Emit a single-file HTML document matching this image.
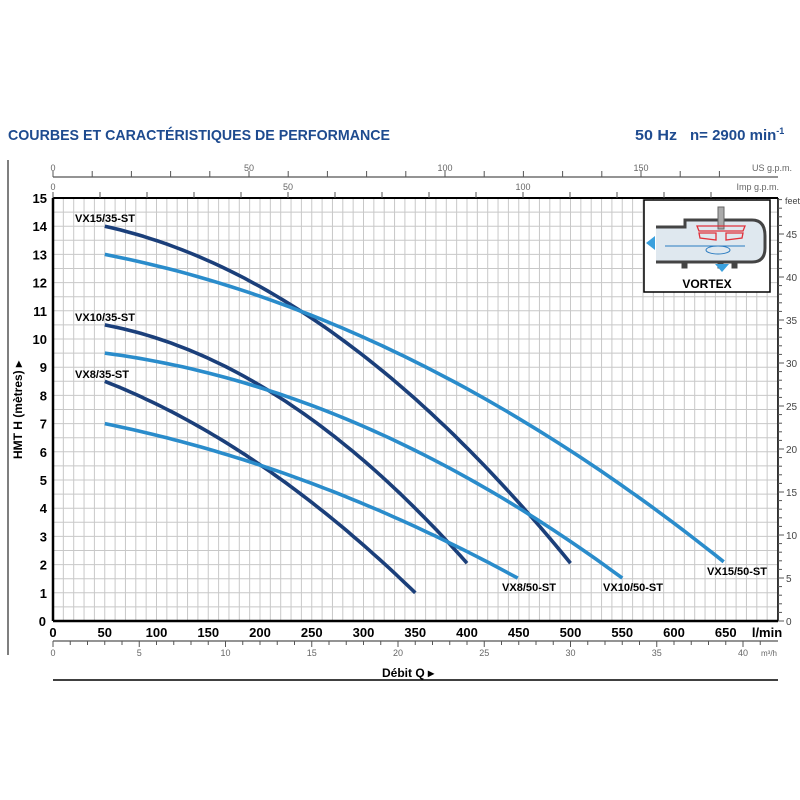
<!DOCTYPE html>
<html><head><meta charset="utf-8"><style>
html,body{margin:0;padding:0;background:#fff;width:800px;height:800px;overflow:hidden}
svg{display:block;font-family:"Liberation Sans",Arial,sans-serif}
</style></head><body>
<svg id="s" width="800" height="800" xmlns="http://www.w3.org/2000/svg"></svg>
<script>
const s=document.getElementById('s');let h='';
const X0=53,PX=1.035,Y0=621,PY=28.2;
const X=q=>X0+q*PX, Y=m=>Y0-m*PY;
h+='<text x="8" y="140" font-size="15" font-weight="bold" fill="#1e4b8f" textLength="382" lengthAdjust="spacingAndGlyphs">COURBES ET CARACTÉRISTIQUES DE PERFORMANCE</text>';
h+='<text x="635" y="140" font-size="15" font-weight="bold" fill="#1e4b8f" textLength="42" lengthAdjust="spacingAndGlyphs">50 Hz</text>';
h+='<text x="690" y="140" font-size="15" font-weight="bold" fill="#1e4b8f">n= 2900 min<tspan font-size="9" dy="-6">-1</tspan></text>';
h+='<line x1="8" y1="160" x2="8" y2="655" stroke="#555" stroke-width="1.5"/>';
for(let q=0;q<=700;q+=10){h+=`<line x1="${X(q)}" y1="${Y(15)}" x2="${X(q)}" y2="${Y0}" stroke="#c8c8c8" stroke-width="1"/>`;}
for(let m=0;m<=15;m+=0.5){h+=`<line x1="${X0}" y1="${Y(m)}" x2="778" y2="${Y(m)}" stroke="#c8c8c8" stroke-width="1"/>`;}
h+=`<line x1="${X0}" y1="${Y(15)}" x2="778" y2="${Y(15)}" stroke="#000" stroke-width="2"/>`;
h+=`<line x1="${X0}" y1="${Y(15)}" x2="${X0}" y2="${Y0}" stroke="#000" stroke-width="2.5"/>`;
h+=`<line x1="${X0}" y1="${Y0}" x2="778" y2="${Y0}" stroke="#000" stroke-width="2.5"/>`;
h+=`<line x1="778" y1="${Y(15)}" x2="778" y2="${Y0}" stroke="#000" stroke-width="1.5"/>`;
for(let m=0;m<=15;m++){h+=`<text x="${m==0?46:47}" y="${Y(m)+5}" font-size="13" font-weight="bold" text-anchor="end">${m}</text>`;}
for(let q=0;q<=650;q+=50){h+=`<text x="${X(q)}" y="637" font-size="13" font-weight="bold" text-anchor="middle">${q}</text>`;}
h+='<text x="767" y="637" font-size="13" font-weight="bold" text-anchor="middle">l/min</text>';
h+='<line x1="53" y1="641" x2="778" y2="641" stroke="#555" stroke-width="1.2"/>';
for(let v=0;v<=41;v++){const x=X(v*1000/60);h+=`<line x1="${x}" y1="641" x2="${x}" y2="${v%5?645:647}" stroke="#555"/>`;if(v%5==0)h+=`<text x="${x}" y="656" font-size="9" fill="#666" text-anchor="middle">${v}</text>`;}
h+='<text x="769" y="656" font-size="8" fill="#666" text-anchor="middle">m³/h</text>';
h+='<line x1="53" y1="177" x2="778" y2="177" stroke="#555" stroke-width="1.2"/>';
for(let g=0;g<=170;g+=10){const x=53+g*3.92;h+=`<line x1="${x}" y1="171" x2="${x}" y2="177" stroke="#555"/>`;if(g%50==0)h+=`<text x="${x}" y="171" font-size="9" fill="#666" text-anchor="middle">${g}</text>`;}
h+='<text x="792" y="171" font-size="9" fill="#666" text-anchor="end">US g.p.m.</text>';
for(let g=0;g<=140;g+=10){const x=53+g*4.7;h+=`<line x1="${x}" y1="192" x2="${x}" y2="198" stroke="#555"/>`;if(g%50==0)h+=`<text x="${x}" y="190" font-size="9" fill="#666" text-anchor="middle">${g}</text>`;}
h+='<text x="779" y="190" font-size="9" fill="#666" text-anchor="end">Imp g.p.m.</text>';
for(let f=0;f<=49;f++){const y=Y0-f*8.6;h+=`<line x1="778" y1="${y}" x2="${f%5?782:784}" y2="${y}" stroke="#555"/>`;if(f%5==0)h+=`<text x="786" y="${y+4}" font-size="10" fill="#444">${f}</text>`;}
h+='<text x="785" y="204" font-size="9" fill="#444">feet</text>';
h+='<text transform="translate(22,410) rotate(-90)" font-size="12" font-weight="bold" text-anchor="middle">HMT H (mètres) ▸</text>';
h+='<text x="382" y="677" font-size="12" font-weight="bold">Débit Q ▸</text>';
h+='<line x1="53" y1="680" x2="778" y2="680" stroke="#000" stroke-width="1.5"/>';
function fit(pts){
  let S=[[0,0,0],[0,0,0],[0,0,0]],b=[0,0,0];
  pts.forEach(([q,m])=>{const v=[1,q/100,(q/100)**2];for(let i=0;i<3;i++){b[i]+=v[i]*m;for(let j=0;j<3;j++)S[i][j]+=v[i]*v[j];}});
  for(let i=0;i<3;i++){for(let k=i+1;k<3;k++){const f=S[k][i]/S[i][i];for(let j=i;j<3;j++)S[k][j]-=f*S[i][j];b[k]-=f*b[i];}}
  const c=[0,0,0];for(let i=2;i>=0;i--){let t=b[i];for(let j=i+1;j<3;j++)t-=S[i][j]*c[j];c[i]=t/S[i][i];}
  const F=q=>{const u=q/100;return c[0]+c[1]*u+c[2]*u*u;};
  const q0=pts[0][0],q1=pts[pts.length-1][0];
  const e0=pts[0][1]-F(q0),e1=pts[pts.length-1][1]-F(q1);let d='';
  for(let k=0;k<=60;k++){const t=k/60,q=q0+(q1-q0)*t;const m=F(q)+e0*(1-t)+e1*t;d+=(k?'L':'M')+X(q).toFixed(1)+','+Y(m).toFixed(1);}
  return d;}
const D='#1b3f7a',L='#2a8ccb';
const C=[
[D,[[50,14],[142,12.8],[245,10.85],[335,8.4],[364,7.4],[454,4.04],[500,2.05]]],
[L,[[50,13],[103,12.5],[245,10.85],[335,9.43],[400,8.3],[516,5.6],[648,2.1]]],
[D,[[50,10.5],[103,10.03],[142,9.36],[222,7.9],[364,3.58],[400,2.05]]],
[L,[[50,9.5],[103,8.97],[222,7.9],[335,6.35],[454,4.04],[550,1.52]]],
[D,[[50,8.5],[103,7.48],[190,5.64],[287,3.58],[350,1.0]]],
[L,[[50,7],[190,5.64],[364,3.12],[449,1.52]]]];
C.forEach(c=>h+=`<path d="${fit(c[1])}" fill="none" stroke="${c[0]}" stroke-width="3.6" stroke-linejoin="round"/>`);
const lab=(x,y,t)=>h+=`<text x="${x}" y="${y}" font-size="11" font-weight="bold" textLength="${t.length*6}" lengthAdjust="spacingAndGlyphs">${t}</text>`;
lab(75,222,'VX15/35-ST');lab(75,321,'VX10/35-ST');lab(75,378,'VX8/35-ST');
lab(502,591,'VX8/50-ST');lab(603,591,'VX10/50-ST');lab(707,575,'VX15/50-ST');
h+='<rect x="644" y="200" width="126" height="92" fill="#fff" stroke="#000" stroke-width="1.5"/>';
h+='<path d="M656,227 H685 V220 H752 Q765,220 765,236 V248 Q765,262 752,262 H736 V267 H733 V262 H722 V267 H719 V262 H686 V267 H683 V262 H656" fill="#dfe8ef" stroke="#444" stroke-width="3"/>';
h+='<rect x="718" y="207" width="6" height="22" fill="#aaa" stroke="#666"/>';
h+='<path d="M697,226 H745 L743,231 H699 Z M699,233 H716 V240 L700,238 Z M726,233 H743 L742,238 L726,240 Z" fill="none" stroke="#e0303a" stroke-width="1.3"/>';
h+='<path d="M745,246 H665" stroke="#2a7bc0" stroke-width="1" fill="none"/><ellipse cx="718" cy="250" rx="12" ry="4" fill="none" stroke="#2a7bc0"/>';
h+='<path d="M646,243 L655,236 V250 Z" fill="#3aa0dd"/><path d="M722,272 L715,264 H729 Z" fill="#3aa0dd"/>';
h+='<text x="707" y="288" font-size="12" font-weight="bold" text-anchor="middle">VORTEX</text>';
s.innerHTML=h;
</script>
</body></html>
